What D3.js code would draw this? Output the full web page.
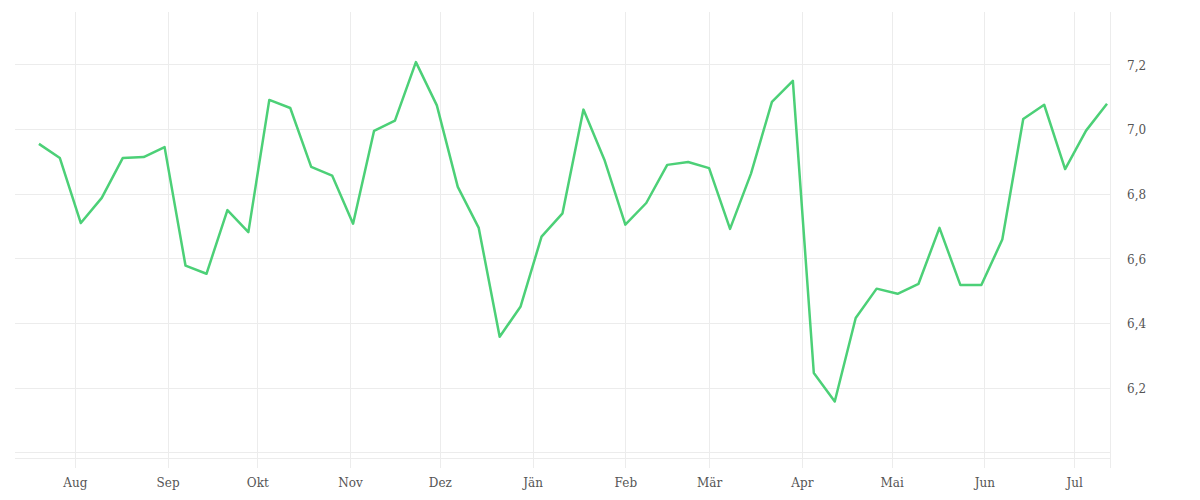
<!DOCTYPE html>
<html>
<head>
<meta charset="utf-8">
<script src="https://cdn.jsdelivr.net/npm/d3@7"></script>
<style>
  body { margin: 0; background: #fff; }
  .tick text { font-family: "DejaVu Serif", serif; fill: #555; }
</style>
</head>
<body>
<script>
const width = 1200;
const height = 500;

// weekly observations
const dates = [
  "2022-07-20", "2022-07-27", "2022-08-03", "2022-08-10", "2022-08-17", "2022-08-24",
  "2022-08-31", "2022-09-07", "2022-09-14", "2022-09-21", "2022-09-28", "2022-10-05",
  "2022-10-12", "2022-10-19", "2022-10-26", "2022-11-02", "2022-11-09", "2022-11-16",
  "2022-11-23", "2022-11-30", "2022-12-07", "2022-12-14", "2022-12-21", "2022-12-28",
  "2023-01-04", "2023-01-11", "2023-01-18", "2023-01-25", "2023-02-01", "2023-02-08",
  "2023-02-15", "2023-02-22", "2023-03-01", "2023-03-08", "2023-03-15", "2023-03-22",
  "2023-03-29", "2023-04-05", "2023-04-12", "2023-04-19", "2023-04-26", "2023-05-03",
  "2023-05-10", "2023-05-17", "2023-05-24", "2023-05-31", "2023-06-07", "2023-06-14",
  "2023-06-21", "2023-06-28", "2023-07-05", "2023-07-12"
];
const values = [
  6.954, 6.910, 6.709, 6.787, 6.910, 6.913, 6.944, 6.577, 6.552, 6.749,
  6.681, 7.090, 7.065, 6.883, 6.856, 6.707, 6.994, 7.026, 7.207, 7.073,
  6.821, 6.694, 6.357, 6.451, 6.667, 6.739, 7.060, 6.905, 6.704, 6.771,
  6.889, 6.898, 6.879, 6.691, 6.862, 7.084, 7.149, 6.245, 6.157, 6.415,
  6.506, 6.490, 6.521, 6.694, 6.517, 6.517, 6.658, 7.031, 7.075, 6.876,
  6.995, 7.078
];

const monthLabels = ["Aug", "Sep", "Okt", "Nov", "Dez", "Jän", "Feb", "Mär", "Apr", "Mai", "Jun", "Jul"];
const monthTicks = [
  "2022-08-01", "2022-09-01", "2022-10-01", "2022-11-01", "2022-12-01", "2023-01-01",
  "2023-02-01", "2023-03-01", "2023-04-01", "2023-05-01", "2023-06-01", "2023-07-01"
];
const yTicks = [6.2, 6.4, 6.6, 6.8, 7.0, 7.2];
const yGrid = [6.0, 6.2, 6.4, 6.6, 6.8, 7.0, 7.2];

const parse = d3.timeParse("%Y-%m-%d");
const data = dates.map((d, i) => ({ date: parse(d), value: values[i] }));
const tickDates = monthTicks.map(parse);

const plot = { left: 15, right: 1110, top: 12, bottom: 458 };

const x = d3.scaleTime()
  .domain([parse("2022-07-12"), parse("2023-07-13")])
  .range([plot.left, plot.right]);

const y = d3.scaleLinear()
  .domain([5.982, 7.362])
  .range([plot.bottom, plot.top]);

const svg = d3.select("body").append("svg")
  .attr("width", width)
  .attr("height", height);

const gridColor = "#ececec";

// horizontal grid
svg.append("g")
  .selectAll("line")
  .data(yGrid)
  .join("line")
  .attr("x1", plot.left)
  .attr("x2", plot.right)
  .attr("y1", d => Math.round(y(d)) + 0.5)
  .attr("y2", d => Math.round(y(d)) + 0.5)
  .attr("stroke", gridColor);

// bottom edge
svg.append("line")
  .attr("x1", plot.left)
  .attr("x2", plot.right)
  .attr("y1", plot.bottom + 0.5)
  .attr("y2", plot.bottom + 0.5)
  .attr("stroke", gridColor);

// vertical month grid, running down past the bottom like ticks
svg.append("g")
  .selectAll("line")
  .data(tickDates)
  .join("line")
  .attr("x1", d => Math.round(x(d)) + 0.5)
  .attr("x2", d => Math.round(x(d)) + 0.5)
  .attr("y1", plot.top)
  .attr("y2", plot.bottom + 10)
  .attr("stroke", gridColor);

// right edge
svg.append("line")
  .attr("x1", plot.right + 0.5)
  .attr("x2", plot.right + 0.5)
  .attr("y1", plot.top)
  .attr("y2", plot.bottom + 10)
  .attr("stroke", gridColor);

// x axis labels
const xAxis = d3.axisBottom(x)
  .tickValues(tickDates)
  .tickFormat((d, i) => monthLabels[i])
  .tickSize(0)
  .tickPadding(0);

svg.append("g")
  .attr("transform", `translate(0, ${plot.bottom + 20})`)
  .call(xAxis)
  .call(g => g.select(".domain").remove())
  .call(g => g.selectAll("text").attr("font-size", 12).attr("dy", "0.71em"));

// y axis labels on the right
const yAxis = d3.axisRight(y)
  .tickValues(yTicks)
  .tickFormat(d => d3.format(".1f")(d).replace(".", ","))
  .tickSize(0)
  .tickPadding(0);

svg.append("g")
  .attr("transform", `translate(${plot.right + 17}, 1)`)
  .call(yAxis)
  .call(g => g.select(".domain").remove())
  .call(g => g.selectAll("text").attr("font-size", 12));

// the series
const line = d3.line()
  .x(d => x(d.date))
  .y(d => y(d.value));

svg.append("path")
  .datum(data)
  .attr("fill", "none")
  .attr("stroke", "#4cd077")
  .attr("stroke-width", 2.5)
  .attr("stroke-linejoin", "round")
  .attr("d", line);
</script>
</body>
</html>
